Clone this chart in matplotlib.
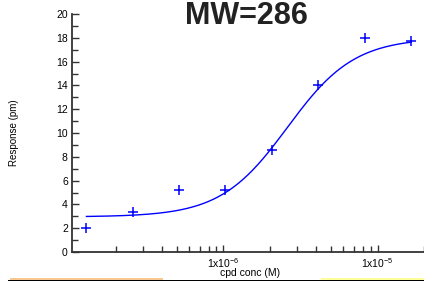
import numpy as np
import matplotlib
matplotlib.use('Agg')
import matplotlib.pyplot as plt
from matplotlib.patches import Rectangle
from matplotlib.ticker import FixedLocator, LogLocator, NullFormatter

plt.rcParams['font.family'] = ['Liberation Sans', 'DejaVu Sans']
plt.rcParams['mathtext.fontset'] = 'custom'
plt.rcParams['mathtext.rm'] = 'Liberation Sans'

# measured points (doubling dilution)
conc = [1.29e-7, 2.58e-7, 5.15e-7, 1.03e-6, 2.06e-6, 4.12e-6, 8.24e-6, 1.65e-5]
resp = [2.0, 3.4, 5.2, 5.2, 8.6, 14.0, 18.0, 17.7]

# fitted logistic parameters
bottom = 2.95
top = 18.0
ec50 = 2.6e-6
hill = 2.0

xt = [1e-6, 1e-5]
xt_labels = [r'1x10$^{\mathregular{-6}}$', r'1x10$^{\mathregular{-5}}$']

fig = plt.figure(figsize=(4.24, 2.81), dpi=100)
ax = fig.add_axes([72 / 424, 1 - 252 / 281, 1 - 72 / 424, (252 - 14) / 281])

xf = np.logspace(np.log10(conc[0]), np.log10(conc[-1]), 200)
yf = bottom + (top - bottom) / (1 + (ec50 / xf) ** hill)
ax.plot(xf, yf, color='#0000ff', lw=1)
ax.plot(conc, resp, '+', color='#0000ff', ms=7, mew=1.1)

ax.set_xscale('log')
ax.set_xlim(1.04e-7, 2e-5)
ax.set_ylim(0, 20)
ax.xaxis.set_major_locator(FixedLocator(xt))
ax.set_xticklabels(xt_labels)
ax.xaxis.set_minor_locator(LogLocator(base=10, subs=np.arange(2, 10)))
ax.xaxis.set_minor_formatter(NullFormatter())
ax.set_yticks(range(0, 21, 2))
ax.set_yticks(range(1, 20, 2), minor=True)

for s in ['top', 'right']:
    ax.spines[s].set_visible(False)
for s in ['left', 'bottom']:
    ax.spines[s].set_linewidth(1.3)
    ax.spines[s].set_color('#333333')
ax.tick_params(which='both', direction='in', color='#333333', labelsize=7.5, width=1)
ax.tick_params(which='major', length=5, pad=3)
ax.tick_params(which='minor', length=4)
ax.patch.set_visible(False)

ax.set_ylabel('Response (pm)', fontsize=7)
ax.yaxis.set_label_coords(-0.15, 0.5)

fig.text(246 / 424, 1 - 24 / 281, 'MW=286', fontsize=22, fontweight='bold',
         ha='center', va='baseline', color='#222222')
fig.text(250 / 424, 1 - 273 / 281, 'cpd conc (M)', fontsize=7.5, ha='center', va='center')

# cut-off boxes along the bottom edge
fig.patches.append(Rectangle((8 / 424, 0), 1, 1.2 / 281, transform=fig.transFigure,
                             color='black', lw=0))
fig.patches.append(Rectangle((10 / 424, 1.2 / 281), 153 / 424, 2 / 281,
                             transform=fig.transFigure, color='#f8c890', lw=0))
fig.patches.append(Rectangle((321 / 424, 1.2 / 281), 103 / 424, 2 / 281,
                             transform=fig.transFigure, color='#ffff99', lw=0))

fig.savefig('out.png', dpi=100)
